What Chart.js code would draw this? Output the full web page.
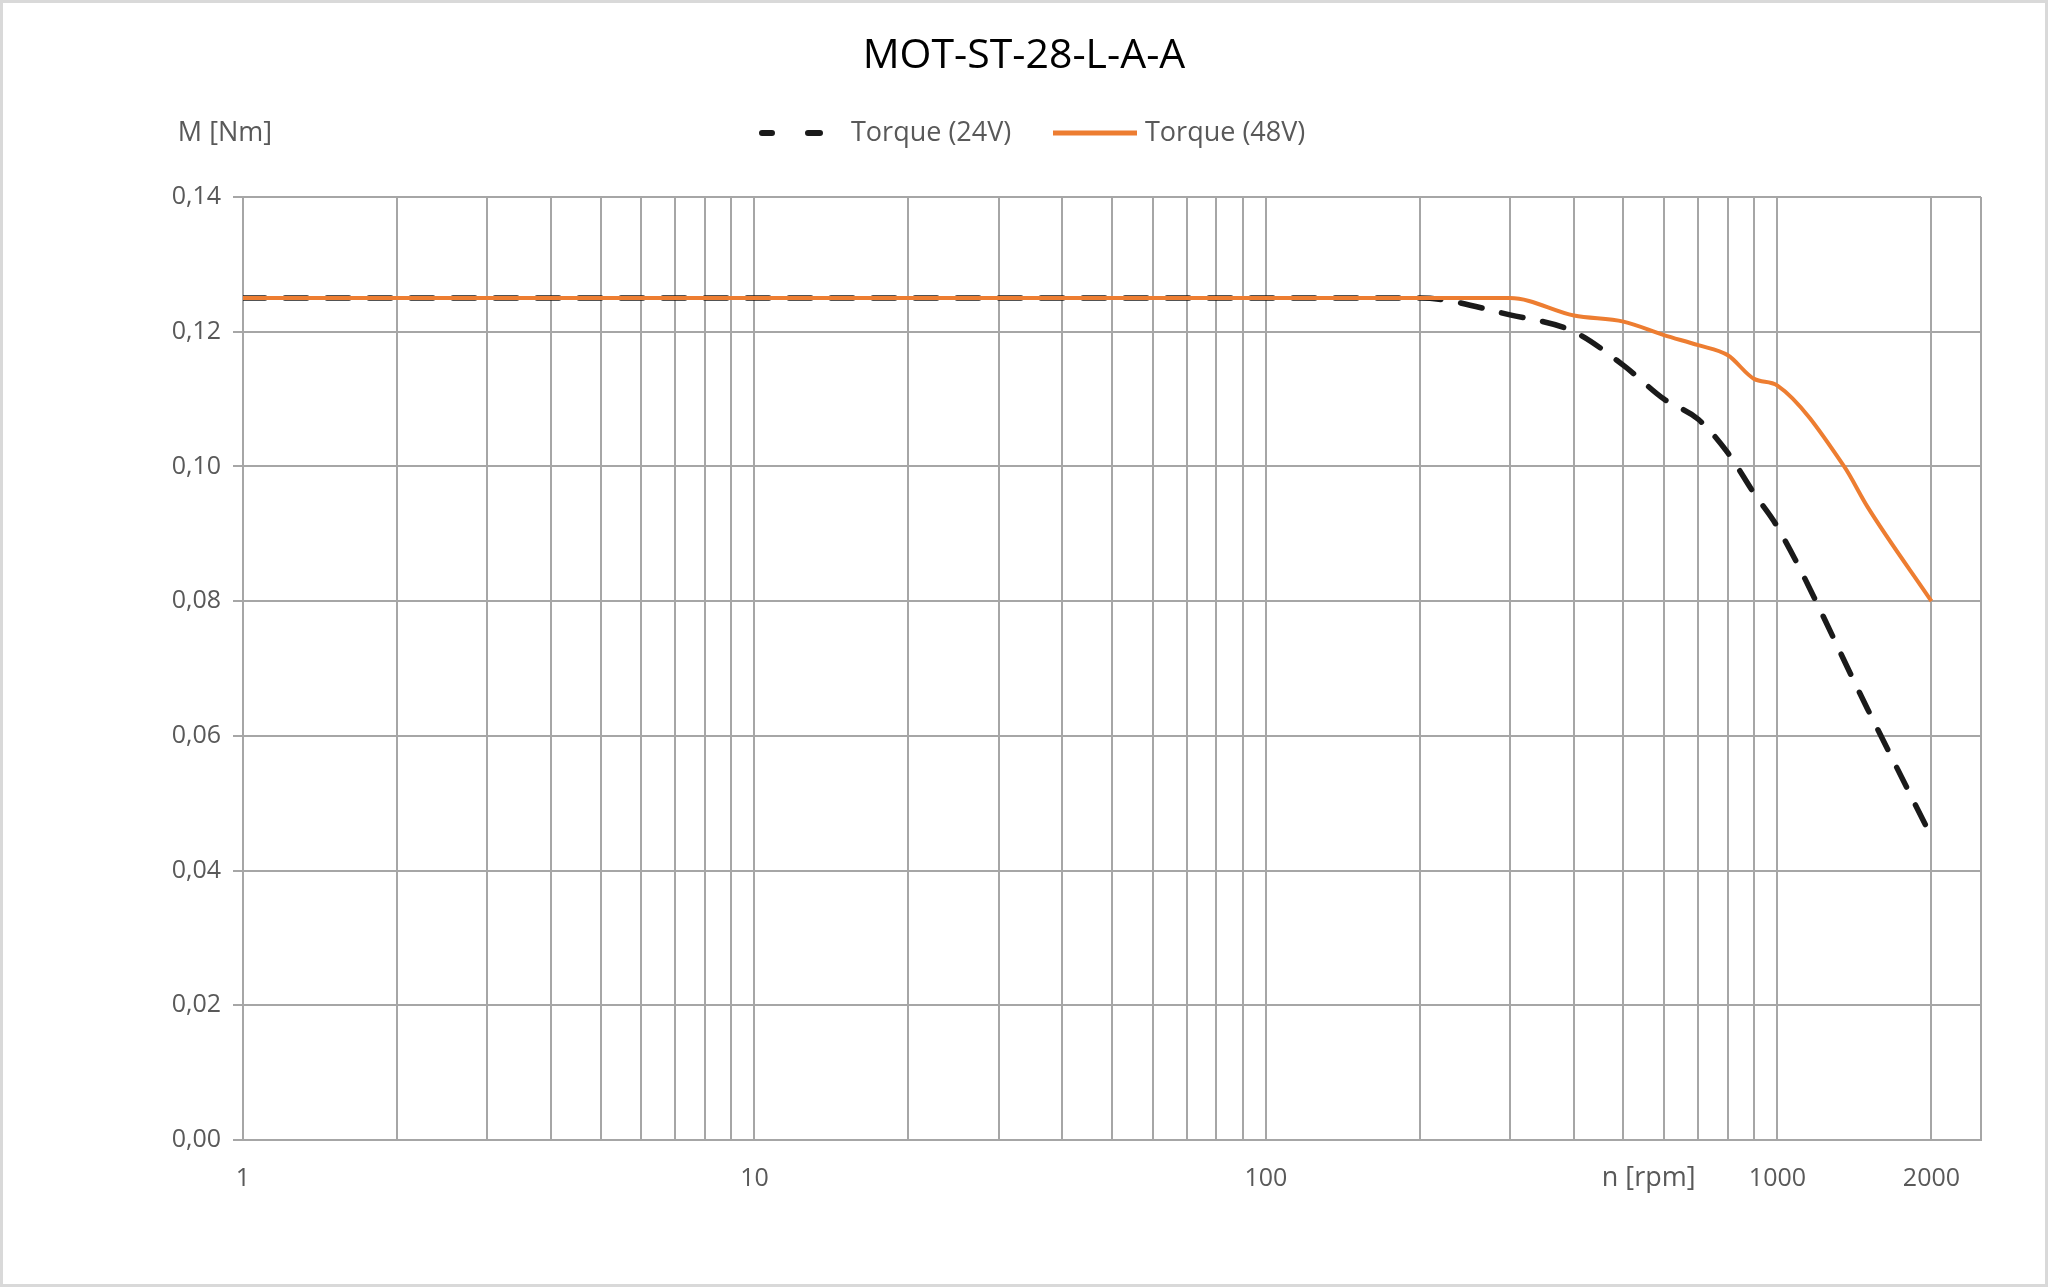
<!DOCTYPE html>
<html><head><meta charset="utf-8">
<script src="https://cdn.jsdelivr.net/npm/chart.js@4"></script>
<style>html,body{margin:0;padding:0;background:#fff}#w{width:2048px;height:1287px}</style>
</head><body><div id="w"><canvas id="c"></canvas></div>
<script>
const rpm24 = [1, 200, 300, 400, 500, 600, 700, 800, 900, 1000, 1500, 2000];
const torque24 = [0.125, 0.125, 0.1225, 0.120, 0.115, 0.110, 0.107, 0.102, 0.096, 0.091, 0.064, 0.045];
const rpm48 = [1, 200, 300, 400, 500, 600, 700, 800, 900, 1000, 1350, 1500, 2000];
const torque48 = [0.125, 0.125, 0.125, 0.1224, 0.1215, 0.1195, 0.118, 0.1165, 0.113, 0.112, 0.100, 0.094, 0.080];
const xTickLabels = [1, 10, 100, 1000, 2000];
const yTicks = [0, 0.02, 0.04, 0.06, 0.08, 0.10, 0.12, 0.14];
const gridX = [];
[1, 10, 100].forEach(d => { for (let k = 1; k <= 9; k++) gridX.push(k * d); });
gridX.push(1000, 2000, 2500);

const FONT = "'Open Sans', 'Noto Sans', sans-serif";
const GREY = '#595959';

const deco = {
  id: 'deco',
  beforeDraw(ch) {
    const c = ch.ctx; c.save();
    c.fillStyle = '#fff'; c.fillRect(0, 0, ch.width, ch.height);
    c.restore();
  },
  afterDraw(ch) {
    const c = ch.ctx; c.save();
    c.strokeStyle = '#d9d9d9'; c.lineWidth = 3; c.strokeRect(1.5, 1.5, ch.width - 3, ch.height - 3);
    c.fillStyle = '#000'; c.font = "41px " + FONT; c.textAlign = 'center'; c.textBaseline = 'middle';
    c.fillText('MOT-ST-28-L-A-A', 1024, 56);
    c.fillStyle = GREY; c.font = "27px " + FONT;
    c.fillText('M [Nm]', 225, 133);
    c.textAlign = 'left';
    c.strokeStyle = '#1a1a1a'; c.lineWidth = 6; c.lineCap = 'round';
    c.beginPath(); c.moveTo(762, 133); c.lineTo(772, 133); c.moveTo(808, 133); c.lineTo(820, 133); c.stroke();
    c.fillText('Torque (24V)', 851, 133);
    c.strokeStyle = '#ED7D31'; c.lineWidth = 5; c.lineCap = 'butt';
    c.beginPath(); c.moveTo(1053, 133); c.lineTo(1137, 133); c.stroke();
    c.fillText('Torque (48V)', 1145, 133);
    c.textAlign = 'center';
    const xs = ch.scales.x;
    c.fillText('n [rpm]', xs.getPixelForValue(560), 1178);
    c.restore();
  }
};

new Chart(document.getElementById('c'), {
  type: 'scatter',
  data: {
    datasets: [
      { label: 'Torque (24V)', order: 1, data: rpm24.map((x, i) => ({ x, y: torque24[i] })), showLine: true,
        borderColor: '#1a1a1a', borderWidth: 5.5, borderDash: [22, 20], borderCapStyle: 'round',
        pointRadius: 0, cubicInterpolationMode: 'monotone' },
      { label: 'Torque (48V)', order: 0, data: rpm48.map((x, i) => ({ x, y: torque48[i] })), showLine: true,
        borderColor: '#ED7D31', borderWidth: 4, pointRadius: 0, cubicInterpolationMode: 'monotone' }
    ]
  },
  options: {
    responsive: true, maintainAspectRatio: false, animation: false,
    layout: { padding: { top: 197, right: 67, left: 0, bottom: 0 } },
    plugins: { legend: { display: false }, title: { display: false }, tooltip: { enabled: false } },
    scales: {
      x: {
        type: 'logarithmic', min: 1, max: 2500,
        afterBuildTicks: s => { s.ticks = gridX.map(v => ({ value: v })); },
        afterFit: s => { s.height = 147; },
        ticks: { autoSkip: false, maxRotation: 0, color: GREY, font: { size: 25, family: FONT }, padding: 24,
          callback: v => xTickLabels.includes(v) ? String(v) : '' },
        grid: { color: '#a6a6a6', lineWidth: 2, drawTicks: false },
        border: { color: '#a6a6a6', width: 2 }
      },
      y: {
        min: 0, max: 0.14,
        afterBuildTicks: s => { s.ticks = yTicks.map(v => ({ value: v })); },
        afterFit: s => { s.width = 243; },
        ticks: { color: GREY, font: { size: 25, family: FONT }, padding: 12,
          callback: v => v.toFixed(2).replace('.', ',') },
        grid: { color: '#a6a6a6', lineWidth: 2, tickLength: 10 },
        border: { color: '#a6a6a6', width: 2 }
      }
    }
  },
  plugins: [deco]
});
</script></body></html>
